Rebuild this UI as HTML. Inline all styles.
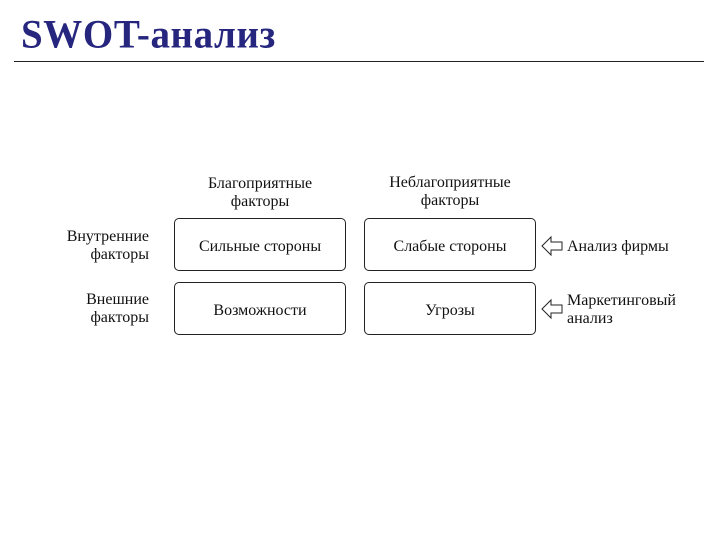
<!DOCTYPE html>
<html><head><meta charset="utf-8"><style>
body{margin:0;width:720px;height:540px;background:#fff;position:relative;overflow:hidden;font-family:"Liberation Serif","Noto Serif CJK SC",serif;color:#111}
.a{position:absolute}
.t{font-size:16px;line-height:18px}
.box{position:absolute;border:1px solid #222;border-radius:5px;width:172px;height:53px;display:flex;align-items:center;justify-content:center;font-size:16px;box-sizing:border-box;padding-top:4px}
</style></head><body>
<div class="a" style="left:21px;top:10px;font-size:39px;font-weight:bold;color:#26267e;line-height:48px;letter-spacing:0.6px;transform:scaleY(1.04);transform-origin:left top">SWOT-анализ</div>
<div class="a" style="left:14px;top:61px;width:690px;height:1px;background:#222"></div>
<div class="a t" style="left:174px;width:172px;top:175px;text-align:center">Благоприятные<br>факторы</div>
<div class="a t" style="left:364px;width:172px;top:174px;text-align:center">Неблагоприятные<br>факторы</div>
<div class="a t" style="right:571px;top:228px;text-align:right">Внутренние<br>факторы</div>
<div class="a t" style="right:571px;top:291px;text-align:right">Внешние<br>факторы</div>
<div class="box" style="left:174px;top:218px">Сильные стороны</div>
<div class="box" style="left:364px;top:218px">Слабые стороны</div>
<div class="box" style="left:174px;top:282px">Возможности</div>
<div class="box" style="left:364px;top:282px">Угрозы</div>
<svg class="a" style="left:540px;top:235px" width="26" height="90">
<path d="M2,11 L11,2 L11,7 L22,7 L22,15 L11,15 L11,20 Z" fill="#fff" stroke="#222" stroke-width="1"/>
<path d="M2,74 L11,65 L11,70 L22,70 L22,78 L11,78 L11,83 Z" fill="#fff" stroke="#222" stroke-width="1"/>
</svg>
<div class="a t" style="left:567px;top:238px">Анализ фирмы</div>
<div class="a t" style="left:567px;top:292px">Маркетинговый<br>анализ</div>
</body></html>
